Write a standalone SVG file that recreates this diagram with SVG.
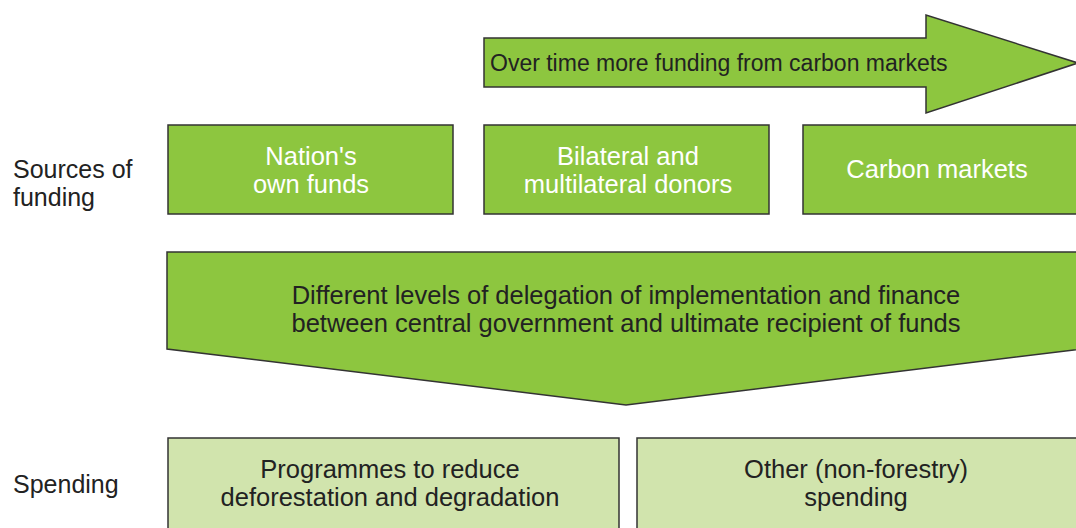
<svg xmlns="http://www.w3.org/2000/svg" width="1076" height="528" viewBox="0 0 1076 528">
<style>
text{font-family:"Liberation Sans",Arial,sans-serif;}
.g{fill:#8dc63f;stroke:#333;stroke-width:1.5;}
.lg{fill:#d1e4ad;stroke:#333;stroke-width:1.5;}
.w{fill:#fff;font-size:25.5px;text-anchor:middle;}
.d{fill:#222;font-size:25.5px;text-anchor:middle;}
.lab{fill:#222;font-size:25px;}
</style>
<rect width="1076" height="528" fill="#fff"/>
<g id="arrow-time">
<polygon class="g" points="484,38 926,38 926,15 1078,63 926,113 926,87 484,87"/>
<text x="490" y="71" style="fill:#222;font-size:23px">Over time more funding from carbon markets</text>
</g>
<g id="label-sources"><text class="lab" x="13" y="178">Sources of</text><text class="lab" x="13" y="206">funding</text></g>
<g id="label-spending"><text class="lab" x="13" y="493">Spending</text></g>
<g id="box-nation">
<rect class="g" x="168" y="125" width="285" height="89"/>
<text class="w" x="311" y="165">Nation's</text><text class="w" x="311" y="193">own funds</text>
</g>
<g id="box-donors">
<rect class="g" x="484" y="125" width="285" height="89"/>
<text class="w" x="628" y="165">Bilateral and</text><text class="w" x="628" y="193">multilateral donors</text>
</g>
<g id="box-carbon">
<rect class="g" x="803" y="125" width="290" height="89"/>
<text class="w" x="937" y="178">Carbon markets</text>
</g>
<g id="arrow-delegation">
<polygon class="g" points="167,252 1090,252 1090,348 626,405 167,349"/>
<text class="d" x="626" y="304">Different levels of delegation of implementation and finance</text>
<text class="d" x="626" y="332">between central government and ultimate recipient of funds</text>
</g>
<g id="box-programmes">
<rect class="lg" x="168" y="438" width="451" height="100"/>
<text class="d" x="390" y="478">Programmes to reduce</text><text class="d" x="390" y="506">deforestation and degradation</text>
</g>
<g id="box-other">
<rect class="lg" x="637" y="438" width="450" height="100"/>
<text class="d" x="856" y="478">Other (non-forestry)</text><text class="d" x="856" y="506">spending</text>
</g>
<g id="connectors"></g>
</svg>
